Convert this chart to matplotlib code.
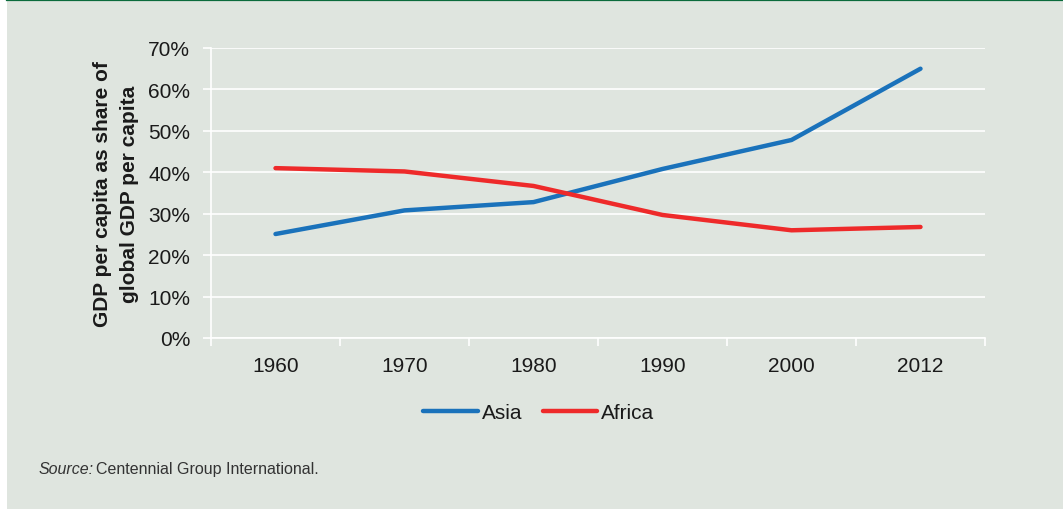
import matplotlib
matplotlib.use("Agg")
import matplotlib.pyplot as plt
from matplotlib.patches import Rectangle
from matplotlib.lines import Line2D
from matplotlib import font_manager

years = ["1960", "1970", "1980", "1990", "2000", "2012"]
asia = [25.1, 30.8, 32.8, 40.8, 47.8, 65.0]
africa = [41.0, 40.2, 36.7, 29.7, 26.0, 26.8]
yticks = [0, 10, 20, 30, 40, 50, 60, 70]
ytick_labels = [f"{v}%" for v in yticks]

BG = "#dfe5df"
BLUE = "#1a72bb"
RED = "#ee2a2a"
GREEN = "#0b6b3c"

avail = {f.name for f in font_manager.fontManager.ttflist}
narrow = "Liberation Sans Narrow" if "Liberation Sans Narrow" in avail else "Liberation Sans"
plt.rcParams["font.family"] = ["Liberation Sans", "DejaVu Sans"]

W, H = 1063, 510
fig = plt.figure(figsize=(W / 100, H / 100), dpi=100, facecolor="white")
bg = Rectangle((7 / W, 0), 1 - 7 / W, 1, transform=fig.transFigure,
               facecolor=BG, edgecolor="none", zorder=-5)
fig.add_artist(bg)
fig.add_artist(Line2D([7 / W, 1], [1 - 1.2 / H, 1 - 1.2 / H], transform=fig.transFigure,
                      color=GREEN, lw=1.6, zorder=-4))

ax = fig.add_axes([211 / W, 1 - 339 / H, (985 - 211) / W, (339 - 49) / H])
ax.set_zorder(2)
ax.set_facecolor(BG)
x = list(range(len(years)))
ax.plot(x, asia, color=BLUE, lw=3.2, solid_capstyle="round", label="Asia", zorder=3)
ax.plot(x, africa, color=RED, lw=3.2, solid_capstyle="round", label="Africa", zorder=3)

ax.set_xlim(-0.5, len(years) - 0.5)
ax.set_ylim(0, 70)
ax.set_yticks(yticks)
ax.set_yticklabels(ytick_labels)
ax.set_xticks(x)
ax.set_xticklabels(years)
ax.set_xticks([i - 0.5 for i in range(len(years) + 1)], minor=True)
ax.tick_params(axis="x", which="major", length=0, pad=13, labelsize=15, labelcolor="#1a1a1a")
ax.tick_params(axis="x", which="minor", length=6, width=1.2, color="white", direction="out")
ax.tick_params(axis="y", which="major", length=6, width=1.2, color="white", pad=9,
               labelsize=15, labelcolor="#1a1a1a")
ax.grid(axis="y", color="white", lw=1.2, zorder=1)
ax.set_axisbelow(True)
for s in ["top", "right"]:
    ax.spines[s].set_visible(False)
for s in ["left", "bottom"]:
    ax.spines[s].set_color("white")
    ax.spines[s].set_linewidth(1.2)

fig.text(116 / W, 1 - 194 / H, "GDP per capita as share of\nglobal GDP per capita",
         rotation=90, ha="center", va="center", fontsize=15, fontweight="bold",
         color="#1a1a1a", linespacing=1.55)

leg = fig.legend(handles=ax.get_lines(), loc="center", bbox_to_anchor=(539 / W, 1 - 414 / H),
                 ncol=2, frameon=False, fontsize=15, handlelength=2.6, handletextpad=0.2,
                 columnspacing=1.0)
for t in leg.get_texts():
    t.set_color("#1a1a1a")

fig.text(39 / W, 1 - 470 / H, "Source:", fontsize=11.5, style="italic", color="#333333",
         family=[narrow, "DejaVu Sans"], va="center")
fig.text(96 / W, 1 - 470 / H, "Centennial Group International.", fontsize=11.5, color="#333333",
         family=[narrow, "DejaVu Sans"], va="center")

fig.savefig("out.png", dpi=100, facecolor=fig.get_facecolor())
